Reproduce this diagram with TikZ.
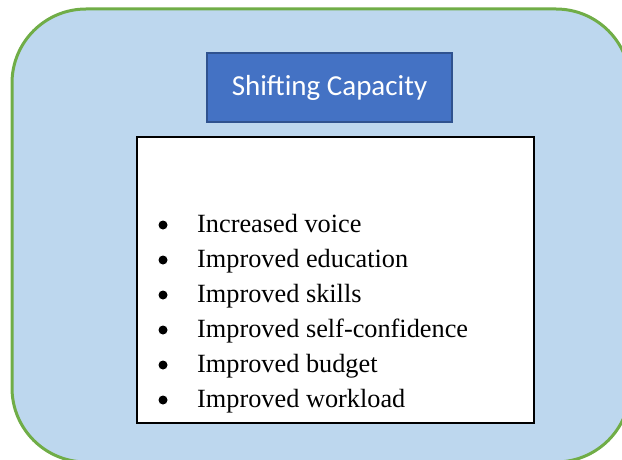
\documentclass[tikz,border=0pt]{standalone}
\usepackage{fontspec}
\setmainfont{Liberation Serif}
\newfontfamily\calibrifont{Carlito}
\definecolor{outerfill}{HTML}{BDD7EE}
\definecolor{outerline}{HTML}{70AD47}
\definecolor{titlefill}{HTML}{4472C4}
\definecolor{titleline}{HTML}{2F528F}
\tikzset{
  outerbox/.style={fill=outerfill, draw=outerline, line width=3pt, rounded corners=74pt},
  titlebox/.style={fill=titlefill, draw=titleline, line width=1.5pt, minimum width=245pt, minimum height=69pt, inner sep=0pt, text=white, font=\calibrifont\fontsize{29}{34}\selectfont},
  listbox/.style={fill=white, draw=black, line width=1.2pt},
  itemtext/.style={anchor=base west, inner sep=0pt, font=\fontsize{26.3}{30}\selectfont},
  bulletmark/.style={circle, fill=black, inner sep=0pt, minimum size=9pt},
}
\begin{document}
\begin{tikzpicture}[x=1pt,y=-1pt]
\useasboundingbox (0,0) rectangle (622,460);
\draw[outerbox] (12,9) rectangle (630,462);
\node[titlebox] (title) at (329.5,87.5) {Shifting Capacity};
\draw[listbox] (137,137) rectangle (534,423);
\foreach \t [count=\i] in {Increased voice, Improved education, Improved skills, Improved self-confidence, Improved budget, Improved workload} {
  \pgfmathsetmacro{\yy}{232+35*(\i-1)}
  \pgfmathsetmacro{\by}{\yy-7}
  \node[bulletmark] (b\i) at (163,\by) {};
  \node[itemtext] (t\i) at (197,\yy) {\t};
}
\end{tikzpicture}
\end{document}
